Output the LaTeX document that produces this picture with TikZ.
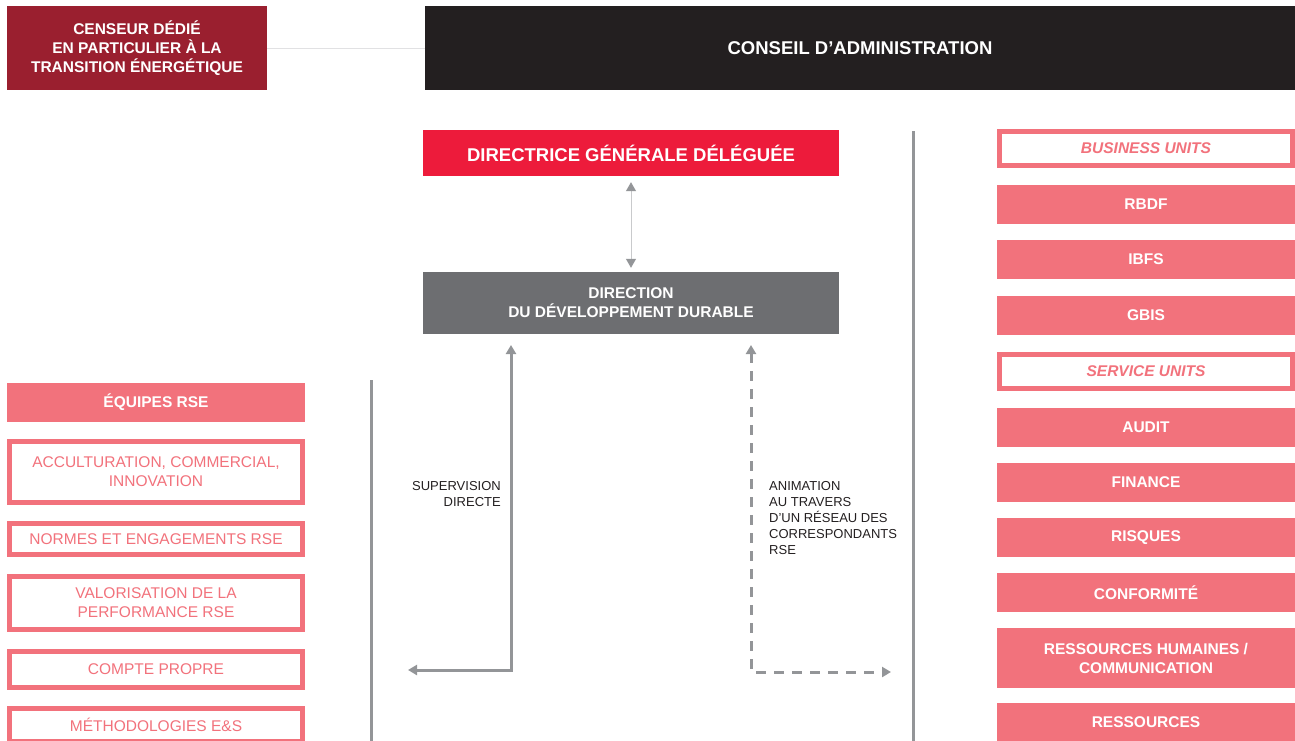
\documentclass[tikz,border=0pt]{standalone}
\usepackage{fontspec}
\setmainfont{Liberation Sans}
\usetikzlibrary{arrows.meta}
\definecolor{censeur}{HTML}{9A1F2F}
\definecolor{cablack}{HTML}{231F20}
\definecolor{dgdred}{HTML}{ED1B3B}
\definecolor{dddgray}{HTML}{6D6E71}
\definecolor{pinkbox}{HTML}{F2727C}
\definecolor{linegray}{HTML}{939598}
\definecolor{lightline}{HTML}{C9CACC}
\definecolor{paleline}{HTML}{E1E1E3}
\definecolor{labeltext}{HTML}{231F20}
\tikzset{
  bigbox/.style={inner sep=0pt, align=center, text=white, font=\bfseries\fontsize{18.5}{22}\selectfont},
  midbox/.style={inner sep=0pt, align=center, text=white, font=\bfseries\fontsize{15.5}{19}\selectfont},
  pinkfill/.style={fill=pinkbox, inner sep=0pt, align=center, text=white, minimum width=298pt, font=\bfseries\fontsize{15.5}{19}\selectfont},
  pinkline/.style={draw=pinkbox, line width=5pt, fill=white, inner sep=0pt, align=center, text=pinkbox, minimum width=293pt, font=\fontsize{15.5}{19}\selectfont},
  unitline/.style={pinkline, font=\bfseries\itshape\fontsize{15.5}{19}\selectfont},
  sep/.style={draw=linegray, line width=3pt},
  solidarr/.style={draw=linegray, line width=3pt, {Triangle[width=10pt,length=9pt]}-{Triangle[width=10pt,length=9pt]}},
  dasharr/.style={solidarr, dash pattern=on 10pt off 8pt},
  thinarr/.style={draw=lightline, line width=1pt, {Triangle[width=10pt,length=9pt,color=linegray]}-{Triangle[width=10pt,length=9pt,color=linegray]}},
  lbl/.style={inner sep=0pt, text=labeltext, font=\fontsize{13}{16}\selectfont}
}
\begin{document}
\begin{tikzpicture}[x=1pt,y=-1pt]
\useasboundingbox (0,0) rectangle (1295,740);

% top row
\node[midbox, fill=censeur, minimum width=260pt, minimum height=84pt] (cens) at (137,48)
  {CENSEUR DÉDIÉ\\EN PARTICULIER À LA\\TRANSITION ÉNERGÉTIQUE};
\node[bigbox, fill=cablack, minimum width=870pt, minimum height=84pt] (ca) at (860,48)
  {CONSEIL D’ADMINISTRATION};
\draw[paleline, line width=1pt] (cens.east) -- (ca.west);

% centre
\node[bigbox, fill=dgdred, minimum width=416pt, minimum height=46pt] (dgd) at (631,153)
  {DIRECTRICE GÉNÉRALE DÉLÉGUÉE};
\node[midbox, fill=dddgray, minimum width=416pt, minimum height=62pt] (ddd) at (631,303)
  {DIRECTION\\DU DÉVELOPPEMENT DURABLE};
\draw[thinarr, shorten <=6pt, shorten >=4pt] (dgd) -- (ddd);

% separators
\coordinate (sepLa) at (371,380);
\coordinate (sepLb) at (371,745);
\coordinate (sepRa) at (913,131);
\coordinate (sepRb) at (913,745);
\draw[sep] (sepLa) -- (sepLb);
\draw[sep] (sepRa) -- (sepRb);

% supervision arrow
\coordinate (supTop) at (511,345);
\coordinate (supCorner) at (511,670);
\coordinate (supEnd) at (408,670);
\draw[solidarr] (supTop) -- (supCorner) -- (supEnd);
\node[lbl, align=right, anchor=north east] (suplbl) at (501,481) {SUPERVISION\\DIRECTE};

% animation arrow
\coordinate (aniTop) at (751,345);
\coordinate (aniCorner) at (751,672);
\coordinate (aniEnd) at (891,672);
\draw[dasharr] (aniTop) -- (aniCorner) -- (aniEnd);
\node[lbl, align=left, anchor=north west] (anilbl) at (769,481)
  {ANIMATION\\AU TRAVERS\\D’UN RÉSEAU DES\\CORRESPONDANTS\\RSE};

% left column
\node[pinkfill, minimum height=39pt] (equipes) at (156,402.5) {ÉQUIPES RSE};
\node[pinkline, minimum height=61pt] (accult) at (156,472) {ACCULTURATION, COMMERCIAL,\\INNOVATION};
\node[pinkline, minimum height=31pt] (normes) at (156,539) {NORMES ET ENGAGEMENTS RSE};
\node[pinkline, minimum height=53pt] (valo) at (156,603) {VALORISATION DE LA\\PERFORMANCE RSE};
\node[pinkline, minimum height=36pt] (compte) at (156,669.5) {COMPTE PROPRE};
\node[pinkline, minimum height=33pt] (metho) at (156,725) {MÉTHODOLOGIES E\&S};

% right column
\node[unitline, minimum height=34pt] (bu) at (1146,148.5) {BUSINESS UNITS};
\node[pinkfill, minimum height=39pt] (rbdf) at (1146,204.5) {RBDF};
\node[pinkfill, minimum height=39pt] (ibfs) at (1146,259.5) {IBFS};
\node[pinkfill, minimum height=39pt] (gbis) at (1146,315.5) {GBIS};
\node[unitline, minimum height=34pt] (su) at (1146,371.5) {SERVICE UNITS};
\node[pinkfill, minimum height=39pt] (audit) at (1146,427.5) {AUDIT};
\node[pinkfill, minimum height=39pt] (finance) at (1146,482.5) {FINANCE};
\node[pinkfill, minimum height=39pt] (risques) at (1146,537.5) {RISQUES};
\node[pinkfill, minimum height=39pt] (conf) at (1146,592.5) {CONFORMITÉ};
\node[pinkfill, minimum height=60pt] (rh) at (1146,658) {RESSOURCES HUMAINES /\\COMMUNICATION};
\node[pinkfill, minimum height=39pt] (ress) at (1146,722.5) {RESSOURCES};
\end{tikzpicture}
\end{document}
